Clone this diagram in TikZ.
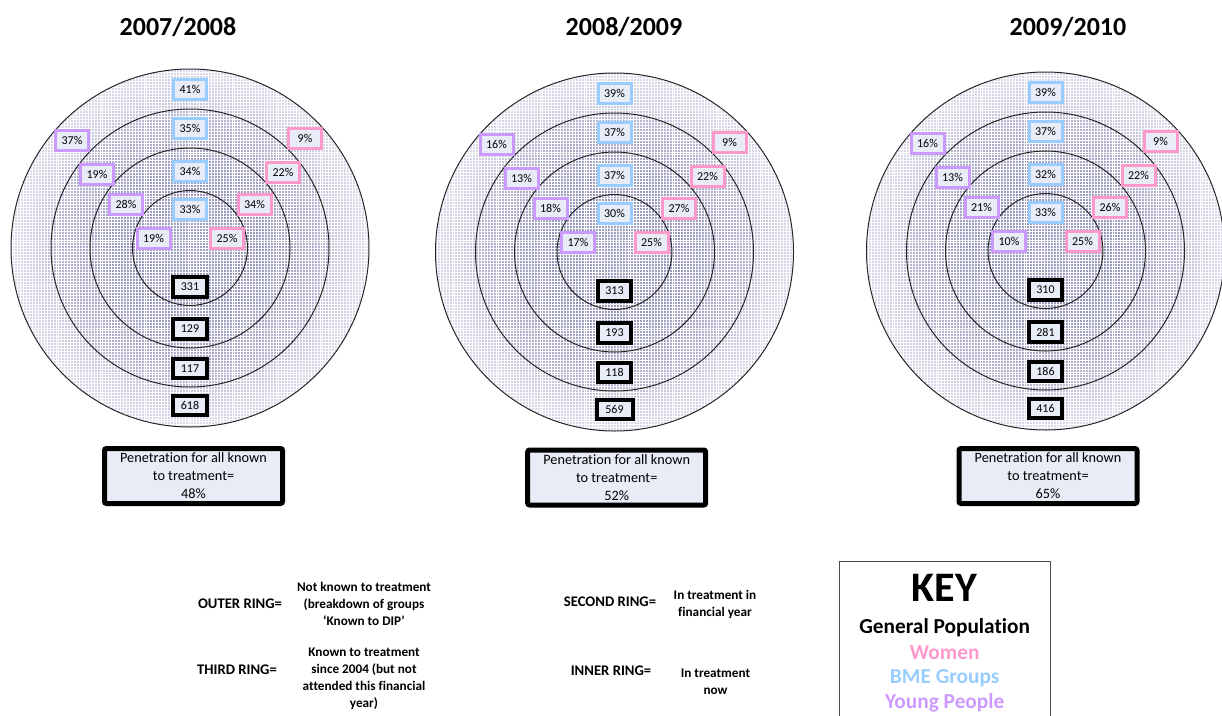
\documentclass[tikz,border=0pt]{standalone}
\usepackage{fontspec}
\setmainfont{Carlito}[Ligatures=NoCommon]
\usetikzlibrary{patterns.meta}

\definecolor{womenc}{HTML}{FF99CC}
\definecolor{bmec}{HTML}{99CCFF}
\definecolor{youngc}{HTML}{CC99FF}
\definecolor{boxfill}{HTML}{E8ECF6}
\definecolor{ringAout}{HTML}{DADAEA}
\definecolor{ringAin}{HTML}{7878A0}
\definecolor{ringBout}{HTML}{B8B8D2}
\definecolor{ringBin}{HTML}{7C7CA4}
\definecolor{ringCout}{HTML}{A8A8C6}
\definecolor{ringCin}{HTML}{8080A8}
\definecolor{ringDout}{HTML}{9A9ABC}
\definecolor{ringDin}{HTML}{A4A4C4}

\tikzset{
  pct/.style={draw, line width=2.25pt, fill=boxfill, minimum width=24.75pt,
    minimum height=15pt, inner sep=0pt, font=\fontsize{9}{10}\selectfont},
  women/.style={pct, draw=womenc},
  bme/.style={pct, draw=bmec},
  young/.style={pct, draw=youngc},
  count/.style={pct, draw=black, line width=3pt, minimum width=25pt, minimum height=14.5pt},
  year/.style={font=\fontsize{19.5}{22}\selectfont\bfseries},
  pen/.style={draw=black, line width=3.75pt, fill=boxfill, rounded corners=1.5pt,
    minimum width=133.5pt, minimum height=41.25pt, inner sep=0pt, align=center,
    font=\fontsize{10.7}{13.5}\selectfont},
  ringname/.style={font=\fontsize{11}{13}\selectfont\bfseries},
  ringdesc/.style={font=\fontsize{9.9}{12.75}\selectfont\bfseries, align=center},
  keyitem/.style={anchor=base, font=\fontsize{16}{19}\selectfont\bfseries},
  ringline/.style={draw=black!85, line width=0.75pt},
  gridtex/.style={pattern={Lines[angle=0,distance=2.2pt,line width=0.35pt]},
    pattern color=white, fill opacity=0.18},
  gridtexb/.style={pattern={Lines[angle=90,distance=2.2pt,line width=0.35pt]},
    pattern color=white, fill opacity=0.18},
}

% four shaded concentric discs around the current origin
\newcommand{\drawbullseye}{%
  \shade[inner color=ringAin, outer color=ringAout] (0,0) circle (134.25pt);
  \shade[inner color=ringBin, outer color=ringBout] (0,0) circle (104.25pt);
  \shade[inner color=ringCin, outer color=ringCout] (0,0) circle (75pt);
  \shade[inner color=ringDin, outer color=ringDout] (0,0) circle (43.1pt);
  \fill[gridtex] (0,0) circle (134.25pt);
  \fill[gridtexb] (0,0) circle (134.25pt);
  \draw[ringline] (0,0) circle (134.25pt) (0,0) circle (104.25pt)
    (0,0) circle (75pt) (0,0) circle (43.1pt);
}

\begin{document}
\begin{tikzpicture}[x=0.75pt, y=-0.75pt]
\useasboundingbox (0,0) rectangle (1222,715);

% ---------- 2007/2008 ----------
\node[year] (ya) at (178,27) {2007/2008};
\begin{scope}[shift={(190,248)}]
  \drawbullseye
  \node[bme] (a-b4) at (0,-159) {41\%};
  \node[bme] (a-b3) at (0,-119.5) {35\%};
  \node[bme] (a-b2) at (0,-77) {34\%};
  \node[bme] (a-b1) at (0,-39) {33\%};
  \node[young] (a-y4) at (-118,-108) {37\%};
  \node[young] (a-y3) at (-93,-74) {19\%};
  \node[young] (a-y2) at (-64,-44) {28\%};
  \node[young] (a-y1) at (-36.5,-10) {19\%};
  \node[women] (a-w4) at (115,-110) {9\%};
  \node[women] (a-w3) at (93,-76) {22\%};
  \node[women] (a-w2) at (64.5,-44) {34\%};
  \node[women] (a-w1) at (37,-10) {25\%};
  \node[count] (a-c1) at (0,39) {331};
  \node[count] (a-c2) at (0,81) {129};
  \node[count] (a-c3) at (0,120.5) {117};
  \node[count] (a-c4) at (0,157.5) {618};
\end{scope}
\node[pen] (pa) at (193.5,476) {Penetration for all known\\to treatment=\\48\%};

% ---------- 2008/2009 ----------
\node[year] (yb) at (624,27) {2008/2009};
\begin{scope}[shift={(614.5,252)}]
  \drawbullseye
  \node[bme] (b-b4) at (0,-159) {39\%};
  \node[bme] (b-b3) at (0,-119.5) {37\%};
  \node[bme] (b-b2) at (0,-77) {37\%};
  \node[bme] (b-b1) at (0,-39) {30\%};
  \node[young] (b-y4) at (-118,-108) {16\%};
  \node[young] (b-y3) at (-93,-74) {13\%};
  \node[young] (b-y2) at (-64,-44) {18\%};
  \node[young] (b-y1) at (-36.5,-10) {17\%};
  \node[women] (b-w4) at (115,-110) {9\%};
  \node[women] (b-w3) at (93,-76) {22\%};
  \node[women] (b-w2) at (64.5,-44) {27\%};
  \node[women] (b-w1) at (37,-10) {25\%};
  \node[count] (b-c1) at (0,39) {313};
  \node[count] (b-c2) at (0,81) {193};
  \node[count] (b-c3) at (0,120.5) {118};
  \node[count, minimum width=27pt] (b-c4) at (0,157.5) {569};
\end{scope}
\node[pen] (pb) at (616.7,477.5) {Penetration for all known\\to treatment=\\52\%};

% ---------- 2009/2010 ----------
\node[year] (yc) at (1068,27) {2009/2010};
\begin{scope}[shift={(1045.5,251)}]
  \drawbullseye
  \node[bme] (c-b4) at (0,-159) {39\%};
  \node[bme] (c-b3) at (0,-119.5) {37\%};
  \node[bme] (c-b2) at (0,-77) {32\%};
  \node[bme] (c-b1) at (0,-39) {33\%};
  \node[young] (c-y4) at (-118,-108) {16\%};
  \node[young] (c-y3) at (-93,-74) {13\%};
  \node[young] (c-y2) at (-64,-44) {21\%};
  \node[young] (c-y1) at (-36.5,-10) {10\%};
  \node[women] (c-w4) at (115,-110) {9\%};
  \node[women] (c-w3) at (93,-76) {22\%};
  \node[women] (c-w2) at (64.5,-44) {26\%};
  \node[women] (c-w1) at (37,-10) {25\%};
  \node[count] (c-c1) at (0,39) {310};
  \node[count] (c-c2) at (0,81) {281};
  \node[count] (c-c3) at (0,120.5) {186};
  \node[count] (c-c4) at (0,157.5) {416};
\end{scope}
\node[pen] (pc) at (1048,476) {Penetration for all known\\to treatment=\\65\%};

% ---------- ring legend ----------
\node[ringname] (outerlbl) at (240,604) {OUTER RING=};
\node[ringdesc] (outerdesc) at (364,604) {Not known to treatment\\(breakdown of groups\\‘Known to DIP’};
\node[ringname] (thirdlbl) at (237,670) {THIRD RING=};
\node[ringdesc] (thirddesc) at (364,679) {Known to treatment\\since 2004 (but not\\attended this financial\\year)};
\node[ringname] (secondlbl) at (610,602) {SECOND RING=};
\node[ringdesc] (seconddesc) at (715,604) {In treatment in\\financial year};
\node[ringname] (innerlbl) at (611,671) {INNER RING=};
\node[ringdesc] (innerdesc) at (715.5,682) {In treatment\\now};

% ---------- key ----------
\node[draw=black!70, line width=0.75pt, anchor=north west, minimum width=158.25pt,
  minimum height=130pt, inner sep=0pt] (keybox) at (839,561) {};
\node[anchor=base, font=\fontsize{31.5}{36}\selectfont\bfseries] (keytitle) at (944.5,601.5) {KEY};
\node[keyitem] (keygen) at (944.7,633.5) {General Population};
\node[keyitem, text=womenc] (keywomen) at (944.7,659) {Women};
\node[keyitem, text=bmec] (keybme) at (944.7,683.5) {BME Groups};
\node[keyitem, text=youngc] (keyyoung) at (944.7,708) {Young People};
\end{tikzpicture}
\end{document}
